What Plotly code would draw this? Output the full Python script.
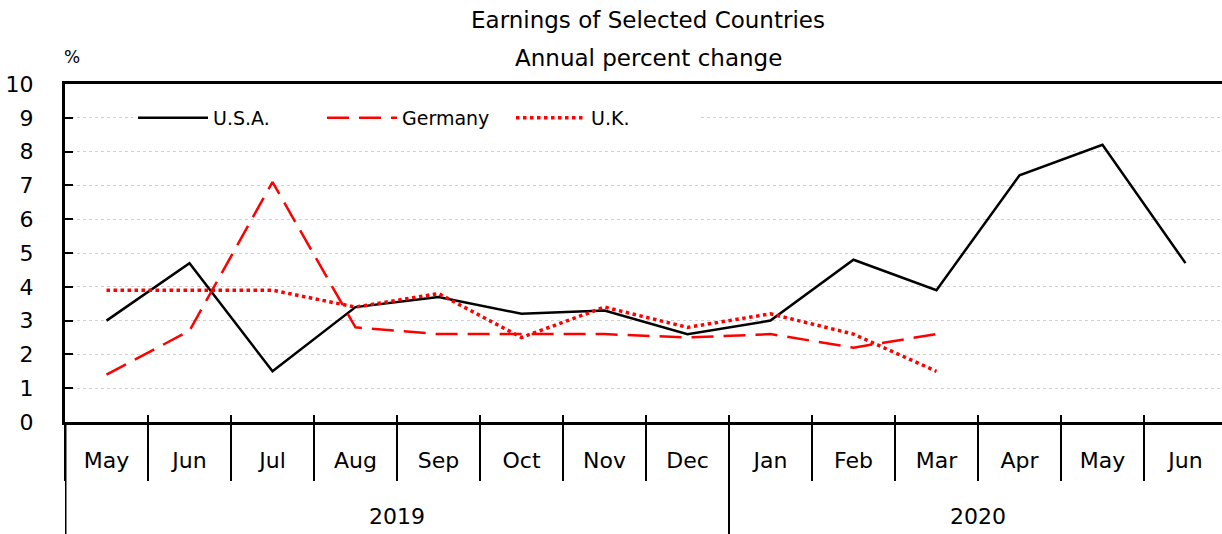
import plotly.graph_objects as go

months = ["May", "Jun", "Jul", "Aug", "Sep", "Oct", "Nov", "Dec",
          "Jan", "Feb", "Mar", "Apr", "May", "Jun"]
years = ["2019"] * 8 + ["2020"] * 6

usa = [3.0, 4.7, 1.5, 3.4, 3.7, 3.2, 3.3, 2.6, 3.0, 4.8, 3.9, 7.3, 8.2, 4.7]
germany = [1.4, 2.7, 7.1, 2.8, 2.6, 2.6, 2.6, 2.5, 2.6, 2.2, 2.6]
uk = [3.9, 3.9, 3.9, 3.4, 3.8, 2.5, 3.4, 2.8, 3.2, 2.6, 1.5]

yticks = list(range(0, 11))

FONT = "DejaVu Sans, Verdana, sans-serif"

W, H = 1222, 534
ML, MR, MT, MB = 65, 0, 84, 112
PH = H - MT - MB
PW = W - ML - MR

idx = list(range(len(months)))
# the last category is slightly clipped by the right edge in the reference
xr = [-0.5, len(months) - 0.5 - 0.06]
bounds = [i - 0.5 for i in range(len(months))]

fig = go.Figure()
fig.add_trace(go.Scatter(x=idx, y=usa, name="U.S.A.", mode="lines",
                         line=dict(color="black", width=2.5)))
fig.add_trace(go.Scatter(x=idx[:len(germany)], y=germany,
                         name="Germany", mode="lines",
                         line=dict(color="red", width=2.5, dash="22px,10px")))
fig.add_trace(go.Scatter(x=idx[:len(uk)], y=uk, name="U.K.",
                         mode="lines", line=dict(color="red", width=3.5, dash="dot")))
# empty helper traces to attach overlay axes (boundary ticks)
fig.add_trace(go.Scatter(x=[], y=[], xaxis="x2", showlegend=False, hoverinfo="skip"))
fig.add_trace(go.Scatter(x=[], y=[], xaxis="x3", showlegend=False, hoverinfo="skip"))

# year group labels and dividers
year_names = []
for y in years:
    if y not in year_names:
        year_names.append(y)
annotations = []
shapes = []
for yn in year_names:
    pos = [i for i, y in enumerate(years) if y == yn]
    annotations.append(dict(text=yn, xref="x", yref="paper", x=sum(pos) / len(pos),
                            y=-94 / PH, xanchor="center", yanchor="middle",
                            showarrow=False, font=dict(size=22)))
    shapes.append(dict(type="line", xref="x", yref="paper", x0=pos[0] - 0.5,
                       x1=pos[0] - 0.5, y0=0, y1=-MB / PH,
                       line=dict(color="black", width=2 if pos[0] else 3)))

annotations.append(dict(text="Annual percent change", xref="paper", yref="paper",
                        x=(648 - ML) / PW, y=1 + (MT - 58) / PH,
                        xanchor="center", yanchor="middle", showarrow=False,
                        font=dict(size=23)))
annotations.append(dict(text="%", xref="paper", yref="paper", x=(72 - ML) / PW,
                        y=1 + (MT - 57) / PH, xanchor="center", yanchor="middle",
                        showarrow=False, font=dict(size=17)))

fig.update_layout(
    width=W, height=H,
    margin=dict(l=ML, r=MR, t=MT, b=MB, autoexpand=False),
    paper_bgcolor="white", plot_bgcolor="white",
    font=dict(family=FONT, size=22, color="black"),
    title=dict(text="Earnings of Selected Countries", xref="paper",
               x=(648 - ML) / PW, xanchor="center",
               yref="container", y=1 - 20 / H, yanchor="middle", font=dict(size=23)),
    showlegend=True,
    legend=dict(orientation="h", x=(133 - ML) / PW, y=1 - (118 - MT) / PH,
                xanchor="left", yanchor="middle",
                bgcolor="white", font=dict(size=19), entrywidth=104, itemwidth=70),
    annotations=annotations,
    shapes=shapes,
    xaxis=dict(range=xr, tickmode="array", tickvals=idx, ticktext=months,
               showline=True, linecolor="black", linewidth=3, mirror=True,
               ticks="", showgrid=False, zeroline=False,
               tickfont=dict(size=22), ticklabelstandoff=17, automargin=False),
    xaxis2=dict(range=xr, overlaying="x", anchor="y", side="bottom",
                tickmode="array", tickvals=bounds, showticklabels=False,
                ticks="outside", ticklen=58, tickwidth=2, tickcolor="black",
                showline=False, showgrid=False, zeroline=False, automargin=False),
    xaxis3=dict(range=xr, overlaying="x", anchor="y", side="bottom",
                tickmode="array", tickvals=bounds, showticklabels=False,
                ticks="inside", ticklen=7, tickwidth=2, tickcolor="black",
                showline=False, showgrid=False, zeroline=False, automargin=False),
    yaxis=dict(range=[0, 10], tickmode="array", tickvals=yticks,
               ticktext=[str(v) for v in yticks],
               showline=True, linecolor="black", linewidth=3,
               ticks="inside", ticklen=8, tickwidth=2, tickcolor="black",
               showgrid=True, gridcolor="#d0d0d0", gridwidth=1, griddash="dot",
               zeroline=False, ticklabelstandoff=24, tickfont=dict(size=22),
               automargin=False),
)

fig.write_html("out.html", config={"displayModeBar": False},
               post_script="document.body.style.margin='0px';")
